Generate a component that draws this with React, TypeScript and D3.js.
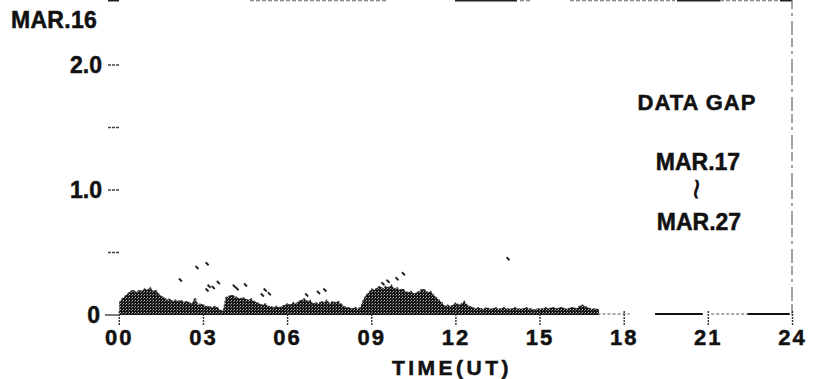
import React from "react";
import * as d3 from "d3";

// ---- data ----
const DATE_LABEL = "MAR.16";
const X_TICKS = [0, 3, 6, 9, 12, 15, 18, 21, 24];
const X_TICK_LABELS = ["00", "03", "06", "09", "12", "15", "18", "21", "24"];
const Y_TICKS = [0, 0.5, 1.0, 1.5, 2.0];
const Y_TICK_LABELS = ["0", "", "1.0", "", "2.0"];
const X_TITLE = "TIME(UT)";
const GAP_TEXT = ["DATA GAP", "MAR.17", "~", "MAR.27"];

// sample spacing in hours for the envelope below
const STEP_H = 0.1;
// upper envelope of the recorded trace, 00h -> 17.1h, one value every 0.1 h
const ENVELOPE = [
  0.10, 0.13, 0.15, 0.17, 0.19, 0.20, 0.18, 0.20, 0.19, 0.21,
  0.20, 0.22, 0.19, 0.20, 0.17, 0.15, 0.14, 0.12, 0.13, 0.11,
  0.12, 0.11, 0.12, 0.10, 0.11, 0.10, 0.09, 0.14, 0.08, 0.09,
  0.08, 0.07, 0.07, 0.06, 0.07, 0.06, 0.04, 0.03, 0.14, 0.15,
  0.16, 0.15, 0.14, 0.13, 0.14, 0.13, 0.12, 0.13, 0.11, 0.10,
  0.09, 0.08, 0.09, 0.07, 0.07, 0.06, 0.07, 0.06, 0.07, 0.08,
  0.09, 0.08, 0.10, 0.09, 0.11, 0.12, 0.13, 0.11, 0.12, 0.09,
  0.10, 0.09, 0.11, 0.10, 0.12, 0.09, 0.11, 0.10, 0.11, 0.09,
  0.07, 0.06, 0.06, 0.05, 0.06, 0.05, 0.06, 0.12, 0.16, 0.18,
  0.21, 0.20, 0.22, 0.23, 0.21, 0.23, 0.22, 0.24, 0.21, 0.22,
  0.20, 0.21, 0.19, 0.18, 0.19, 0.17, 0.18, 0.19, 0.21, 0.20,
  0.18, 0.19, 0.16, 0.14, 0.12, 0.10, 0.07, 0.08, 0.07, 0.08,
  0.10, 0.08, 0.09, 0.11, 0.08, 0.07, 0.06, 0.05, 0.06, 0.05,
  0.05, 0.06, 0.05, 0.05, 0.06, 0.05, 0.05, 0.06, 0.05, 0.05,
  0.05, 0.06, 0.05, 0.05, 0.05, 0.06, 0.05, 0.05, 0.04, 0.05,
  0.05, 0.05, 0.06, 0.05, 0.06, 0.06, 0.05, 0.06, 0.06, 0.05,
  0.05, 0.06, 0.06, 0.05, 0.07, 0.08, 0.07, 0.06, 0.05, 0.05,
  0.05, 0.04,
];

// isolated specks above the trace: [hour, value]
const SPECK_H = [2.18, 2.77, 3.13, 3.13, 3.2, 3.35, 3.53, 4.1, 4.2, 4.5, 5.1, 5.2, 5.35, 6.68, 7.1, 7.33, 9.4, 9.58, 9.9, 10.13, 13.86];
const SPECK_V = [0.28, 0.38, 0.41, 0.20, 0.23, 0.22, 0.26, 0.23, 0.21, 0.24, 0.16, 0.20, 0.17, 0.16, 0.18, 0.20, 0.25, 0.27, 0.29, 0.33, 0.45];

// baseline after the trace ends: [start h, end h]
const TAIL_DOTTED = [[17.05, 18.2], [21.1, 24]];
const TAIL_SOLID = [[19.1, 20.8], [22.4, 23.9]];

const W = 816;
const H = 379;
const FONT = "'Liberation Sans', Arial, Helvetica, sans-serif";

// remnants of the scanned frame (styling only)
const TOP_FAINT = [[250, 387], [520, 530], [570, 675], [720, 780]];
const TOP_DARK = [[108, 119], [455, 517], [677, 720], [780, 792]];

const BOLD = { fontWeight: "bold" as const, fill: "#111", stroke: "#111", strokeWidth: 0.5 };

export default function App() {
  const x = d3.scaleLinear().domain([0, 24]).range([119.3, 792.5]);
  const y = d3.scaleLinear().domain([0, 2]).range([315, 65]);
  const pts = ENVELOPE.map((v, i) => ({ h: i * STEP_H, v }));
  const area = d3
    .area<{ h: number; v: number }>()
    .x((d) => x(d.h))
    .y0(y(0))
    .y1((d) => y(d.v))
    .curve(d3.curveLinear);
  const topLine = d3
    .line<{ h: number; v: number }>()
    .x((d) => x(d.h))
    .y((d) => y(d.v));

  return (
    <svg
      width={W}
      height={H}
      style={{ position: "fixed", left: 0, top: 0, background: "#fff" }}
      fontFamily={FONT}
    >
      <defs>
        <pattern id="stip" width="3" height="3" patternUnits="userSpaceOnUse">
          <rect width="3" height="3" fill="#151515" />
          <rect x="0" y="0" width="1" height="1" fill="#fff" opacity="0.7" />
          <rect x="2" y="1" width="1" height="1" fill="#fff" opacity="0.4" />
        </pattern>
      </defs>

      {/* frame remnants */}
      {TOP_FAINT.map((s, i) => (
        <line key={"tf" + i} x1={s[0]} x2={s[1]} y1={0.5} y2={0.5} stroke="#888" strokeWidth={1.5} strokeDasharray="4,2" />
      ))}
      {TOP_DARK.map((s, i) => (
        <line key={"tk" + i} x1={s[0]} x2={s[1]} y1={0.5} y2={0.5} stroke="#222" strokeWidth={2} />
      ))}
      <line x1={792} x2={792} y1={0} y2={y(0)} stroke="#666" strokeWidth={1.2} strokeDasharray="9,4,3,5,14,3" />

      {/* y ticks */}
      {Y_TICKS.map((t, i) => (
        <g key={"yt" + i}>
          <line
            x1={t === 0 ? 105 : 108}
            x2={119}
            y1={y(t)}
            y2={y(t)}
            stroke="#444"
            strokeWidth={1.4}
            strokeDasharray={t === 0 ? undefined : "3,1"}
          />
          {Y_TICK_LABELS[i] && (
            <text x={t === 0 ? 100 : 102} y={y(t)} dy="0.36em" textAnchor="end" fontSize={23} {...BOLD}>
              {Y_TICK_LABELS[i]}
            </text>
          )}
        </g>
      ))}

      {/* data trace */}
      <path d={area(pts) || ""} fill="url(#stip)" />
      <path d={topLine(pts) || ""} fill="none" stroke="#444" strokeWidth={1.2} strokeDasharray="2,2" />
      {SPECK_H.map((h, i) => (
        <line
          key={"sp" + i}
          x1={x(h) - 1.5}
          x2={x(h) + 1.5}
          y1={y(SPECK_V[i]) - 1.5}
          y2={y(SPECK_V[i]) + 1.5}
          stroke="#222"
          strokeWidth={1.8}
        />
      ))}

      {/* baseline after trace */}
      {TAIL_DOTTED.map((s, i) => (
        <line key={"td" + i} x1={x(s[0])} x2={x(s[1])} y1={y(0) - 1} y2={y(0) - 1} stroke="#555" strokeWidth={1.2} strokeDasharray="3,2" />
      ))}
      {TAIL_SOLID.map((s, i) => (
        <line key={"ts" + i} x1={x(s[0])} x2={x(s[1])} y1={y(0) - 1} y2={y(0) - 1} stroke="#111" strokeWidth={2} />
      ))}

      {/* x ticks */}
      {X_TICKS.map((t, i) => (
        <g key={"xt" + i}>
          <line x1={x(t)} x2={x(t)} y1={y(0) - 4} y2={y(0) + 11} stroke="#333" strokeWidth={1.4} strokeDasharray="2,1" />
          <text x={x(t)} y={345} textAnchor="middle" fontSize={22} letterSpacing={2} {...BOLD}>
            {X_TICK_LABELS[i]}
          </text>
        </g>
      ))}
      <text x={452} y={375} textAnchor="middle" fontSize={21} letterSpacing={3.5} {...BOLD}>
        {X_TITLE}
      </text>

      {/* labels */}
      <text x={11} y={28} fontSize={23} letterSpacing={0.3} {...BOLD}>
        {DATE_LABEL}
      </text>
      <text x={697} y={110} textAnchor="middle" fontSize={22} letterSpacing={1} {...BOLD}>
        {GAP_TEXT[0]}
      </text>
      <text x={698} y={170} textAnchor="middle" fontSize={23} {...BOLD}>
        {GAP_TEXT[1]}
      </text>
      <text
        x={0}
        y={0}
        textAnchor="middle"
        dominantBaseline="central"
        fontSize={38}
        fill="#111"
        transform="translate(696,189) rotate(90)"
      >
        {GAP_TEXT[2]}
      </text>
      <text x={699} y={230} textAnchor="middle" fontSize={23} {...BOLD}>
        {GAP_TEXT[3]}
      </text>
    </svg>
  );
}
